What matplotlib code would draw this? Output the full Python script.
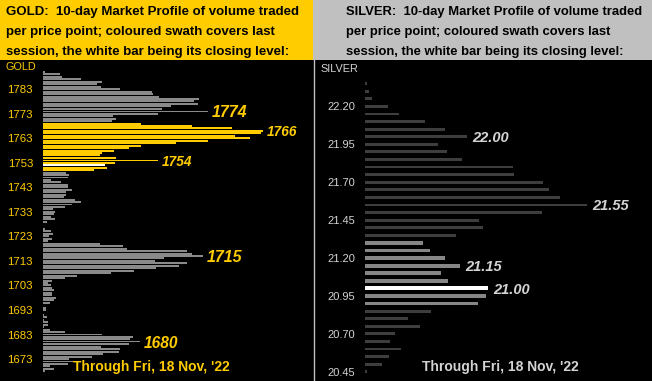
import matplotlib
matplotlib.use("Agg")
import matplotlib.pyplot as plt
from matplotlib.patches import Rectangle

W, H = 652, 381

# ---------------- data ----------------
gold_top_price = 1790
gold_volume = [
    2, 17, 19, 38, 59, 54, 58, 77, 109, 110,          # 1790-1781
    116, 156, 151, 155, 128, 119, 165, 115, 70, 73,   # 1780-1771
    69, 98, 149, 189, 220, 218, 192, 207, 165, 133,   # 1770-1761
    98, 86, 71, 59, 57, 73, 115, 72, 62, 64,          # 1760-1751
    51, 23, 26, 25, 8, 18, 25, 25, 29, 23,            # 1750-1741
    23, 21, 32, 38, 29, 22, 10, 12, 11, 8,            # 1740-1731
    12, 4, 0, 0, 2, 8, 10, 6, 9, 5,                   # 1730-1721
    57, 80, 84, 144, 149, 160, 121, 112, 144, 136,    # 1720-1711
    113, 91, 68, 34, 22, 9, 5, 8, 9, 11,              # 1710-1701
    9, 9, 13, 11, 7, 0, 3, 3, 0, 1,                   # 1700-1691
    4, 1, 5, 5, 1, 7, 22, 59, 90, 87,                 # 1690-1681
    97, 86, 58, 77, 76, 60, 49, 26, 38, 25,           # 1680-1671
    7, 11, 2,                                         # 1670-1668
]
gold_prices = [gold_top_price - i for i in range(len(gold_volume))]
gold_session = (1750, 1769)
gold_close = 1752
gold_ticks = [1783, 1773, 1763, 1753, 1743, 1733, 1723, 1713, 1703, 1693, 1683, 1673]
gold_marks = [1774, 1766, 1754, 1715, 1680]

silver_prices = [22.35, 22.30, 22.25, 22.20, 22.15, 22.10, 22.05, 22.00, 21.95, 21.90,
                 21.85, 21.80, 21.75, 21.70, 21.65, 21.60, 21.55, 21.50, 21.45, 21.40,
                 21.35, 21.30, 21.25, 21.20, 21.15, 21.10, 21.05, 21.00, 20.95, 20.90,
                 20.85, 20.80, 20.75, 20.70, 20.65, 20.60, 20.55, 20.50, 20.45]
silver_volume = [2, 4, 7, 23, 34, 60, 80, 102, 73, 82,
                 97, 148, 149, 178, 184, 195, 222, 177, 114, 118,
                 91, 58, 65, 80, 95, 76, 83, 123, 121, 113,
                 66, 43, 55, 30, 25, 36, 24, 17, 2]
silver_session = (20.90, 21.30)
silver_close = 21.00
silver_ticks = [22.20, 21.95, 21.70, 21.45, 21.20, 20.95, 20.70, 20.45]
silver_marks = [22.00, 21.55, 21.15, 21.00]

gold_title = ["GOLD:  10-day Market Profile of volume traded",
              "per price point; coloured swath covers last",
              "session, the white bar being its closing level:"]
silver_title = ["SILVER:  10-day Market Profile of volume traded",
                "per price point; coloured swath covers last",
                "session, the white bar being its closing level:"]
footer = "Through Fri, 18 Nov, '22"

# ---------------- styles ----------------
YEL = "#FFCC00"
HDR_GRAY = "#C0C0C0"
GOLD_GRAY = "#8A8A8A"
SIL_DARK = "#3E3E3E"
SIL_LIGHT = "#868686"
SIL_TXT = "#D4D4D4"
FONT = "Liberation Sans"

fig = plt.figure(figsize=(W / 100, H / 100), dpi=100, facecolor="black")


def fx(x):
    return x / W


def fy(y):
    return 1 - y / H


# header backgrounds
fig.patches.append(Rectangle((0, fy(60)), fx(313), 60 / H, transform=fig.transFigure,
                             facecolor=YEL, edgecolor="none"))
fig.patches.append(Rectangle((fx(313), fy(60)), fx(W - 313), 60 / H, transform=fig.transFigure,
                             facecolor=HDR_GRAY, edgecolor="none"))
# divider
fig.add_artist(plt.Line2D([fx(313.5), fx(313.5)], [0, fy(60)], transform=fig.transFigure,
                          color=HDR_GRAY, lw=1.0))

for i, line in enumerate(gold_title):
    fig.text(fx(6), fy(11.7 + 20 * i), line, ha="left", va="center", fontsize=9.5,
             fontweight="bold", family=FONT, color="black")
for i, line in enumerate(silver_title):
    fig.text(fx(346), fy(11.7 + 20 * i), line, ha="left", va="center", fontsize=9.4,
             fontweight="bold", family=FONT, color="black")

fig.text(fx(5), fy(67), "GOLD", ha="left", va="center", fontsize=7.8, family=FONT, color=YEL)
fig.text(fx(320), fy(69.5), "SILVER", ha="left", va="center", fontsize=7.8, family=FONT, color=SIL_TXT)

# ---------------- gold panel ----------------
axg = fig.add_axes([fx(43), 0, fx(313 - 43), fy(60)])
axg.set_facecolor("none")
g_colors, g_heights = [], []
for p in gold_prices:
    if p == gold_close:
        g_colors.append("white")
    elif gold_session[0] <= p <= gold_session[1]:
        g_colors.append(YEL)
    else:
        g_colors.append(GOLD_GRAY)
    g_heights.append(0.46 if (p in gold_marks and p != 1766) else 0.8)
axg.barh(gold_prices, gold_volume, height=g_heights, color=g_colors, linewidth=0,
         antialiased=False)
axg.set_xlim(0, 270)
axg.set_ylim(1664.05, 1794.9)
axg.set_yticks(gold_ticks)
axg.set_yticklabels([str(t) for t in gold_ticks], fontsize=8.2, family=FONT, color=YEL)
axg.tick_params(axis="y", length=0, pad=7.2)
axg.set_xticks([])
for s in axg.spines.values():
    s.set_visible(False)
mark_sizes = {1774: 11.5, 1766: 9.8, 1754: 9.8, 1715: 11.5, 1680: 11.2}
for m in gold_marks:
    v = gold_volume[gold_prices.index(m)]
    axg.text(v + 4, m, str(m), ha="left", va="center_baseline", fontsize=mark_sizes[m],
             fontweight="bold", fontstyle="italic", family=FONT, color=YEL)
fig.text(fx(73), fy(367), footer, ha="left", va="center", fontsize=10,
         fontweight="bold", family=FONT, color=YEL)

# ---------------- silver panel ----------------
axs = fig.add_axes([fx(365), 0, fx(W - 365), fy(60)])
axs.set_facecolor("none")
s_colors, s_heights = [], []
for p in silver_prices:
    if abs(p - silver_close) < 1e-9:
        s_colors.append("white"); s_heights.append(0.025)
    elif silver_session[0] - 1e-9 <= p <= silver_session[1] + 1e-9:
        s_colors.append(SIL_LIGHT); s_heights.append(0.025)
    else:
        s_colors.append(SIL_DARK); s_heights.append(0.019)
axs.barh(silver_prices, silver_volume, height=s_heights, color=s_colors, linewidth=0,
         antialiased=False)
axs.set_xlim(0, 287)
axs.set_ylim(20.389, 22.506)
axs.set_yticks(silver_ticks)
axs.set_yticklabels([f"{t:.2f}" for t in silver_ticks], fontsize=8.0, family=FONT, color=SIL_TXT)
axs.tick_params(axis="y", length=0, pad=7.2)
axs.set_xticks([])
for s in axs.spines.values():
    s.set_visible(False)
for m in silver_marks:
    idx = min(range(len(silver_prices)), key=lambda i: abs(silver_prices[i] - m))
    v = silver_volume[idx]
    axs.text(v + 5, m, f"{m:.2f}", ha="left", va="center_baseline", fontsize=10.5,
             fontweight="bold", fontstyle="italic", family=FONT, color=SIL_TXT)
fig.text(fx(422), fy(367), footer, ha="left", va="center", fontsize=10,
         fontweight="bold", family=FONT, color=SIL_TXT)

fig.savefig("out.png", dpi=100, facecolor="black")
